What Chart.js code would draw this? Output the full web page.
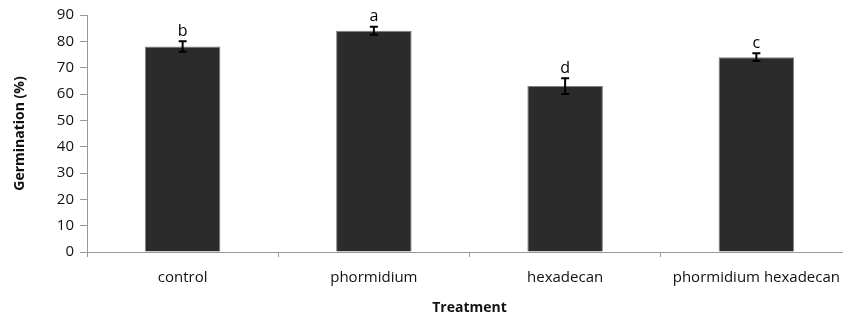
<!DOCTYPE html>
<html>
<head>
<meta charset="utf-8">
<script src="https://cdn.jsdelivr.net/npm/chart.js@4"></script>
<style>
  html, body { margin: 0; padding: 0; background: #fff; overflow: hidden; }
  #wrap { width: 860px; height: 320px; }
</style>
</head>
<body>
<div id="wrap"><canvas id="germChart"></canvas></div>
<script>
// data
const treatments = ["control", "phormidium", "hexadecan", "phormidium hexadecan"];
const germination = [78, 84, 63, 74];
const errors = [2, 1.5, 3, 1.5];
const letters = ["b", "a", "d", "c"];
const yTicks = [0, 10, 20, 30, 40, 50, 60, 70, 80, 90];

const FONT = "'Open Sans', 'Liberation Sans', sans-serif";

// error bars + significance letters
const errorBarPlugin = {
    id: "errorBars",
    afterDatasetsDraw(chart) {
        const ctx = chart.ctx;
        const x = chart.scales.x;
        const y = chart.scales.y;
        ctx.save();
        ctx.strokeStyle = "#000";
        ctx.lineWidth = 2;
        germination.forEach((v, i) => {
            const cx = x.getPixelForValue(i);
            const top = y.getPixelForValue(v + errors[i]);
            const bot = y.getPixelForValue(v - errors[i]);
            ctx.beginPath();
            ctx.moveTo(cx, top); ctx.lineTo(cx, bot);
            ctx.moveTo(cx - 4, top); ctx.lineTo(cx + 4, top);
            ctx.moveTo(cx - 4, bot); ctx.lineTo(cx + 4, bot);
            ctx.stroke();
            ctx.fillStyle = "#000";
            ctx.font = "16px " + FONT;
            ctx.textAlign = "center";
            ctx.textBaseline = "bottom";
            ctx.fillText(letters[i], cx, top - 2);
        });
        ctx.restore();
    }
};

new Chart(document.getElementById("germChart"), {
    type: "bar",
    data: {
        labels: treatments,
        datasets: [{
            data: germination,
            backgroundColor: "#2b2b2b",
            borderColor: "#808080",
            borderWidth: 1,
            barPercentage: 0.79,
            categoryPercentage: 0.5
        }]
    },
    options: {
        responsive: true,
        maintainAspectRatio: false,
        animation: false,
        layout: { padding: { top: 11, right: 8, left: 8, bottom: 0 } },
        plugins: {
            legend: { display: false },
            tooltip: { enabled: false }
        },
        scales: {
            x: {
                offset: true,
                grid: { offset: true, drawOnChartArea: false, drawTicks: true, tickLength: 5, color: "#999" },
                border: { color: "#999" },
                ticks: { color: "#111", font: { family: FONT, size: 15 }, padding: 12, maxRotation: 0, autoSkip: false },
                title: { display: true, text: "Treatment", color: "#111", font: { family: FONT, size: 14, weight: "bold" }, padding: { top: 10 } },
                afterFit(scale) { scale.height = 68; }
            },
            y: {
                min: 0,
                max: 90,
                afterBuildTicks(scale) { scale.ticks = yTicks.map(v => ({ value: v })); },
                grid: { drawOnChartArea: false, drawTicks: true, tickLength: 7, color: "#999" },
                border: { color: "#999" },
                ticks: { color: "#111", font: { family: FONT, size: 15 }, padding: 6 },
                title: { display: true, text: "Germination (%)", color: "#111", font: { family: FONT, size: 14, weight: "bold" } },
                afterFit(scale) { scale.width = 79; }
            }
        }
    },
    plugins: [errorBarPlugin]
});
</script>
</body>
</html>
